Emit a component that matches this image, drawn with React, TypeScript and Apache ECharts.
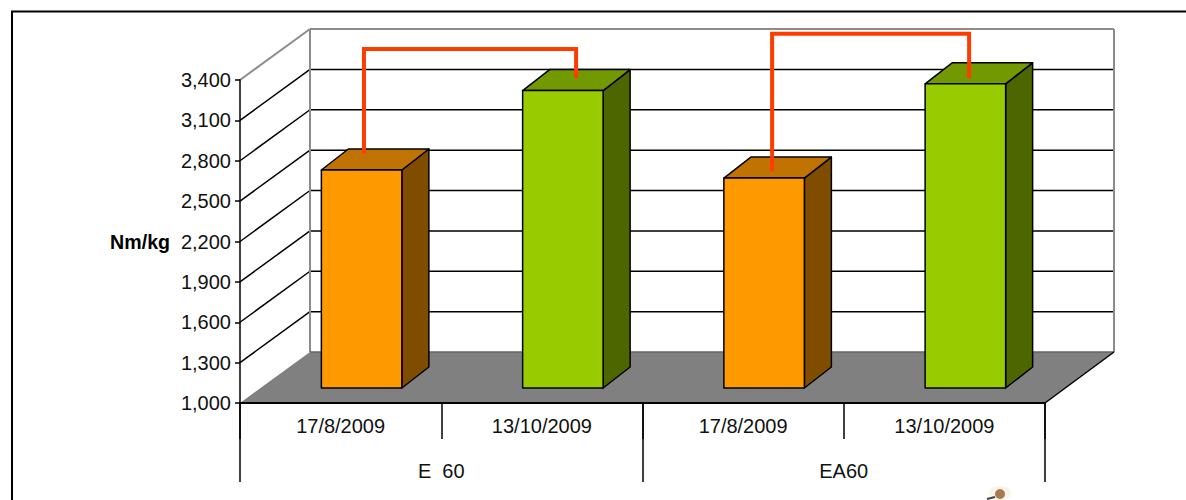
import React, { useEffect, useRef } from "react";
import * as echarts from "echarts";

// Torque readings per test date, two engines
const dates = ["17/8/2009", "13/10/2009", "17/8/2009", "13/10/2009"];
const engines = ["E  60", "EA60"];
const torque = [2620, 3210, 2560, 3260];

// Value axis
const axisMin = 1000;
const axisMax = 3400;
const axisStep = 300;
const wallLevels = [1300, 1600, 1900, 2200, 2500, 2800, 3100];

// Brackets joining the two dates of each engine: [position along the x scale, torque]
const bracketE60 = [[0.616, 2853], [0.616, 3631], [1.67, 3631], [1.67, 3413]];
const bracketEA60 = [[2.644, 2720], [2.644, 3743], [3.623, 3743], [3.623, 3413]];

const barColors = [
  { front: "#ff9900", top: "#c07300", side: "#804d00" },
  { front: "#99cc00", top: "#739900", side: "#4d6600" },
  { front: "#ff9900", top: "#c07300", side: "#804d00" },
  { front: "#99cc00", top: "#739900", side: "#4d6600" },
];

// Pseudo-3D projection of the chart box
const DEPTH_X = 70;
const DEPTH_Y = -51;
const BAR_WIDTH = 80.5;
const BAR_DEPTH_X = 27;
const BAR_DEPTH_Y = -21;
const BAR_SHIFT_X = 21;
const BAR_SHIFT_Y = -15;
const FONT = "'Liberation Sans', Arial, sans-serif";
const WALL_GREY = "#8c8c8c";

function seg(x1: number, y1: number, x2: number, y2: number, stroke: string, lineWidth: number) {
  return { type: "line", shape: { x1, y1, x2, y2 }, style: { stroke, lineWidth } };
}

function renderWall(params: any, api: any) {
  const c = params.coordSys;
  const y = api.coord([0, api.value(0)])[1];
  return {
    type: "group",
    children: [
      seg(c.x, y, c.x + DEPTH_X, y + DEPTH_Y, "#000", 1.5),
      seg(c.x + DEPTH_X, y + DEPTH_Y, c.x + c.width + DEPTH_X - 1, y + DEPTH_Y, "#000", 1.5),
    ],
  };
}

function renderBox(params: any) {
  const c = params.coordSys;
  const bx = c.x + DEPTH_X;
  const by = c.y + DEPTH_Y;
  const rx = c.x + c.width + DEPTH_X - 1;
  const fy = c.y + c.height;
  return {
    type: "group",
    children: [
      seg(bx, by, bx, fy + DEPTH_Y, WALL_GREY, 2),
      seg(bx, by, rx, by, WALL_GREY, 2),
      seg(rx, by, rx, fy + DEPTH_Y, WALL_GREY, 2),
      seg(c.x, c.y, bx, by, WALL_GREY, 2),
      {
        type: "polygon",
        shape: {
          points: [
            [c.x, fy],
            [bx, fy + DEPTH_Y],
            [rx, fy + DEPTH_Y],
            [c.x + c.width, fy],
          ],
        },
        style: { fill: "#808080" },
      },
      seg(bx, fy + DEPTH_Y, rx, fy + DEPTH_Y, "#666", 1.5),
      seg(rx, fy + DEPTH_Y, c.x + c.width, fy, "#000", 1.5),
    ],
  };
}

function renderBar(params: any, api: any) {
  const idx = api.value(0);
  const top = api.coord([idx, api.value(1)]);
  const base = api.coord([idx, axisMin]);
  const l = top[0] + BAR_SHIFT_X - BAR_WIDTH / 2;
  const r = l + BAR_WIDTH;
  const t = top[1] + BAR_SHIFT_Y;
  const b = base[1] + BAR_SHIFT_Y;
  const col = barColors[params.dataIndex];
  const edge = { stroke: "#000", lineWidth: 1.5, lineJoin: "round" };
  return {
    type: "group",
    children: [
      {
        type: "polygon",
        shape: { points: [[r, t], [r + BAR_DEPTH_X, t + BAR_DEPTH_Y], [r + BAR_DEPTH_X, b + BAR_DEPTH_Y], [r, b]] },
        style: { fill: col.side, ...edge },
      },
      {
        type: "polygon",
        shape: { points: [[l, t], [l + BAR_DEPTH_X, t + BAR_DEPTH_Y], [r + BAR_DEPTH_X, t + BAR_DEPTH_Y], [r, t]] },
        style: { fill: col.top, ...edge },
      },
      { type: "rect", shape: { x: l, y: t, width: BAR_WIDTH, height: b - t }, style: { fill: col.front, ...edge } },
    ],
  };
}

export default function App() {
  const ref = useRef<HTMLDivElement>(null);
  useEffect(() => {
    const chart = echarts.init(ref.current!, undefined, { renderer: "svg" });
    const bracket = (data: number[][]) => ({
      type: "line",
      xAxisIndex: 2,
      yAxisIndex: 0,
      data,
      clip: false,
      showSymbol: false,
      silent: true,
      z: 6,
      lineStyle: { color: "#ff3c00", width: 4, join: "miter" },
    });
    chart.setOption({
      animation: false,
      backgroundColor: "#fff",
      textStyle: { fontFamily: FONT },
      grid: { left: 240, top: 80, width: 805, height: 323 },
      graphic: [
        {
          type: "polyline",
          shape: { points: [[12, 500], [12, 11.5], [1186, 11.5]] },
          style: { stroke: "#000", lineWidth: 2, fill: "none" },
        },
        // Small ornament peeking in at the lower edge
        { type: "ellipse", shape: { cx: 1000, cy: 493, rx: 11, ry: 7 }, style: { fill: "#fbf3e6" } },
        { type: "circle", shape: { cx: 1000, cy: 494, r: 5 }, style: { fill: "#a47b52" } },
        { type: "line", shape: { x1: 987, y1: 499, x2: 995, y2: 497 }, style: { stroke: "#444", lineWidth: 2 } },
      ],
      xAxis: [
        {
          type: "category",
          data: dates,
          position: "bottom",
          z: 5,
          axisLine: { lineStyle: { color: "#000", width: 2 } },
          axisTick: { show: true, alignWithLabel: false, length: 36, lineStyle: { color: "#000", width: 1.5 } },
          axisLabel: { color: "#111", fontSize: 20, margin: 13, interval: 0, fontFamily: FONT },
        },
        {
          type: "category",
          data: engines,
          position: "bottom",
          z: 5,
          axisLine: { show: false },
          axisTick: { show: true, alignWithLabel: false, length: 79, lineStyle: { color: "#000", width: 1.5 } },
          axisLabel: { color: "#111", fontSize: 20, margin: 58, interval: 0, fontFamily: FONT },
        },
        { type: "value", min: 0, max: 4, show: false },
      ],
      yAxis: {
        type: "value",
        min: axisMin,
        max: axisMax,
        interval: axisStep,
        name: "Nm/kg",
        nameLocation: "middle",
        nameGap: 70,
        nameRotate: 0,
        nameTextStyle: { color: "#000", fontSize: 19.6, fontWeight: "bold", fontFamily: FONT },
        z: 5,
        axisLine: { show: true, lineStyle: { color: "#000", width: 1.5 } },
        axisTick: { show: true, length: 5, lineStyle: { color: "#000", width: 1.5 } },
        splitLine: { show: false },
        axisLabel: {
          color: "#111",
          fontSize: 20,
          margin: 9,
          fontFamily: FONT,
          formatter: (v: number) => v.toLocaleString("en-US"),
        },
      },
      series: [
        {
          type: "custom",
          xAxisIndex: 0,
          renderItem: renderBox,
          data: [[axisMin]],
          clip: false,
          silent: true,
          z: 1,
        },
        {
          type: "custom",
          xAxisIndex: 0,
          renderItem: renderWall,
          data: wallLevels.map((v) => [v]),
          encode: { y: 0 },
          clip: false,
          silent: true,
          z: 0,
        },
        {
          type: "custom",
          xAxisIndex: 0,
          renderItem: renderBar,
          data: torque.map((v, i) => [i, v]),
          encode: { x: 0, y: 1 },
          clip: false,
          silent: true,
          z: 3,
        },
        bracket(bracketE60),
        bracket(bracketEA60),
      ],
    });
    return () => chart.dispose();
  }, []);
  return <div ref={ref} style={{ position: "fixed", left: 0, top: 0, width: 1186, height: 500 }} />;
}
